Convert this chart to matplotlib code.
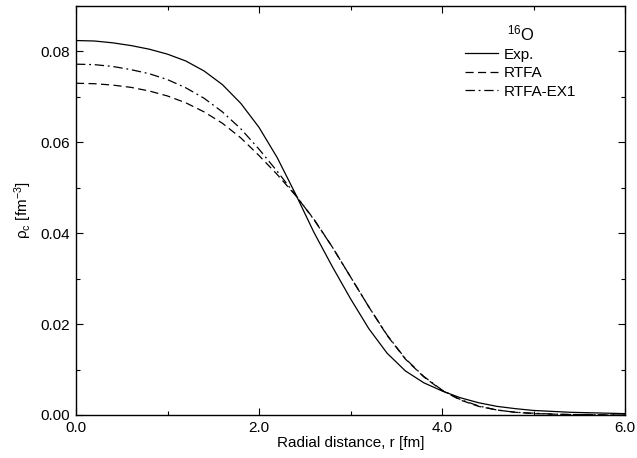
import matplotlib
matplotlib.use("Agg")
import matplotlib.pyplot as plt
from matplotlib.ticker import MultipleLocator, FormatStrFormatter

plt.rcParams['font.family'] = ['Liberation Sans', 'DejaVu Sans']
plt.rcParams['mathtext.fontset'] = 'custom'
plt.rcParams['mathtext.rm'] = 'Liberation Sans'
plt.rcParams['mathtext.it'] = 'Liberation Sans:italic'

# radial grid [fm]
r = [0.0, 0.2, 0.4, 0.6, 0.8, 1.0, 1.2, 1.4, 1.6, 1.8, 2.0, 2.2, 2.4, 2.6, 2.8, 3.0,
     3.2, 3.4, 3.6, 3.8, 4.0, 4.2, 4.4, 4.6, 4.8, 5.0, 5.2, 5.4, 5.6, 5.8, 6.0]

# charge densities [fm^-3]
rho_exp = [0.0824, 0.0823, 0.0819, 0.0813, 0.0805, 0.0794, 0.0779, 0.0757, 0.0727,
           0.0686, 0.0633, 0.0566, 0.0486, 0.0402, 0.0327, 0.0256, 0.0190, 0.0136,
           0.0097, 0.0071, 0.0053, 0.0038, 0.0027, 0.0019, 0.0014, 0.0010, 0.0008,
           0.0006, 0.0005, 0.0004, 0.0003]
rho_rtfa = [0.0730, 0.0729, 0.0726, 0.0721, 0.0713, 0.0702, 0.0687, 0.0667, 0.0642,
            0.0610, 0.0571, 0.0529, 0.0483, 0.0431, 0.0370, 0.0304, 0.0238, 0.0175,
            0.0123, 0.0084, 0.0054, 0.0033, 0.0019, 0.0011, 0.0006, 0.0003, 0.0002,
            0.0001, 0.0001, 0.0000, 0.0000]
rho_ex1 = [0.0772, 0.0771, 0.0767, 0.0760, 0.0751, 0.0738, 0.0720, 0.0697, 0.0667,
           0.0630, 0.0585, 0.0536, 0.0484, 0.0430, 0.0370, 0.0304, 0.0238, 0.0176,
           0.0124, 0.0085, 0.0055, 0.0034, 0.0020, 0.0011, 0.0006, 0.0004, 0.0002,
           0.0001, 0.0001, 0.0000, 0.0000]

labels = ['Exp.', 'RTFA', 'RTFA-EX1']

fig = plt.figure(figsize=(6.37, 4.58), dpi=100)
ax = fig.add_axes([76 / 637, 1 - 415 / 458, 549 / 637, 409 / 458])

ax.plot(r, rho_exp, color='black', lw=0.9, label=labels[0])
ax.plot(r, rho_rtfa, color='black', lw=0.9, dashes=(6.5, 3.5), label=labels[1])
ax.plot(r, rho_ex1, color='black', lw=0.9, dashes=(7.5, 3, 1.5, 3), label=labels[2])

ax.set_xlim(0, 6)
ax.set_ylim(0, 0.09)
ax.xaxis.set_major_locator(MultipleLocator(2))
ax.xaxis.set_minor_locator(MultipleLocator(1))
ax.yaxis.set_major_locator(MultipleLocator(0.02))
ax.yaxis.set_minor_locator(MultipleLocator(0.01))
ax.xaxis.set_major_formatter(FormatStrFormatter('%.1f'))
ax.yaxis.set_major_formatter(FormatStrFormatter('%.2f'))
ax.tick_params(which='both', direction='in', top=True, right=True, labelsize=11, width=0.8)
ax.tick_params(which='major', length=5, pad=4)
ax.tick_params(which='minor', length=3)
for sp in ax.spines.values():
    sp.set_linewidth(1.0)

ax.set_xlabel('Radial distance, r [fm]', fontsize=11, labelpad=1)
ax.set_ylabel('ρ$_{\\mathrm{c}}$ [fm$^{-3}$]', fontsize=11, labelpad=5)

leg = ax.legend(title='$^{16}$O', loc='upper left', bbox_to_anchor=(0.708, 0.958),
                frameon=False, fontsize=11, title_fontsize=12, handlelength=2.2,
                handletextpad=0.35, labelspacing=0.3, borderpad=0, borderaxespad=0)

fig.savefig('out.png', dpi=100)
